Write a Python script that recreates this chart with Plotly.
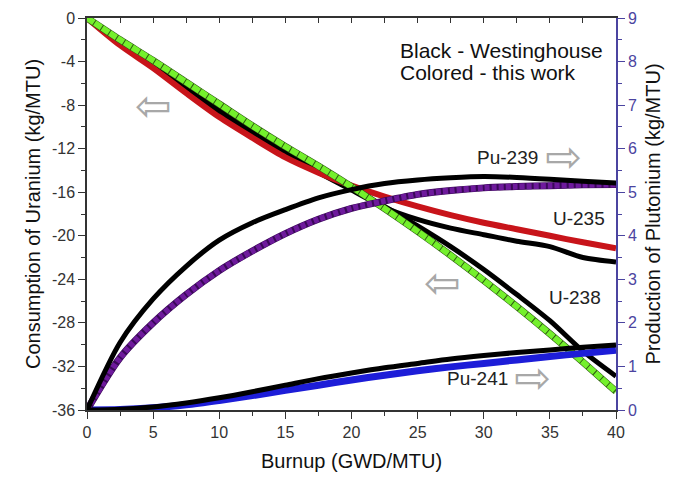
import plotly.graph_objects as go

# ---- data ----
burnup = [0, 2.5, 5, 7.5, 10, 12.5, 15, 17.5, 20, 22.5, 25, 27.5, 30, 32.5, 35, 37.5, 40]

u238_this = [0, -2.0, -3.9, -5.9, -7.9, -9.9, -11.8, -13.6, -15.5, -17.5, -19.6, -21.8, -24.1, -26.5, -29.0, -31.6, -34.3]
u238_west = [0, -2.2, -4.3, -6.3, -8.3, -10.2, -12.1, -13.9, -15.6, -17.3, -19.1, -21.0, -23.1, -25.4, -27.8, -30.6, -32.9]

u235_this = [0, -2.5, -4.6, -6.9, -9.1, -11.0, -12.8, -14.2, -15.4, -16.4, -17.3, -18.1, -18.8, -19.4, -20.0, -20.6, -21.15]
u235_west = [0, -2.2, -4.3, -6.5, -8.6, -10.6, -12.5, -14.2, -15.8, -17.4, -18.5, -19.3, -19.9, -20.5, -21.0, -22.0, -22.4]

pu239_this = [0, 1.2, 2.0, 2.65, 3.2, 3.65, 4.05, 4.38, 4.63, 4.8, 4.95, 5.04, 5.1, 5.13, 5.15, 5.17, 5.18]
pu239_west = [0, 1.55, 2.55, 3.3, 3.9, 4.3, 4.6, 4.87, 5.06, 5.2, 5.28, 5.33, 5.36, 5.34, 5.3, 5.25, 5.21]

pu241_this = [0, 0.01, 0.05, 0.12, 0.22, 0.33, 0.45, 0.57, 0.69, 0.8, 0.9, 0.99, 1.07, 1.15, 1.23, 1.3, 1.37]
pu241_west = [0, 0.02, 0.07, 0.16, 0.28, 0.42, 0.57, 0.72, 0.85, 0.97, 1.07, 1.17, 1.25, 1.32, 1.38, 1.44, 1.49]

x_ticks = [0, 5, 10, 15, 20, 25, 30, 35, 40]
left_ticks = [0, -4, -8, -12, -16, -20, -24, -28, -32, -36]
right_ticks = [0, 1, 2, 3, 4, 5, 6, 7, 8, 9]

FONT = "Liberation Sans, Arial, sans-serif"
AXC = "#333333"
PUC = "#4b44a0"

fig = go.Figure()

def line(x, y, color, width, yaxis="y", dash="solid", shape="spline"):
    fig.add_trace(go.Scatter(x=x, y=y, mode="lines", yaxis=yaxis,
                             line=dict(color=color, width=width, dash=dash,
                                       shape=shape, smoothing=0.8),
                             showlegend=False, hoverinfo="skip"))

# colored (this work)
line(burnup, pu241_this, "#1d1dd8", 7, "y2")
line(burnup, pu239_this, "#3a0858", 7, "y2")
line(burnup, pu239_this, "#6e1a9c", 6, "y2", dash="5px,2px")
# Westinghouse (black)
line(burnup, pu241_west, "#000000", 5, "y2")
line(burnup, pu239_west, "#000000", 5, "y2")
line(burnup, u235_west, "#000000", 5)
line(burnup, u238_west, "#000000", 5)
line(burnup, u235_this, "#c8141a", 6)
line(burnup, u238_this, "#2e5a12", 7)
line(burnup, u238_this, "#74f02c", 6, dash="8px,1px")

# top axis dummy trace
fig.add_trace(go.Scatter(x=[], y=[], xaxis="x2", showlegend=False))

tickfont = dict(family=FONT, size=16, color=AXC)
titlefont = dict(family=FONT, size=20, color="#111111")

fig.update_layout(
    width=680, height=470,
    margin=dict(l=79, r=72, t=10, b=68),
    paper_bgcolor="white", plot_bgcolor="white",
    font=dict(family=FONT),
    showlegend=False,
    xaxis=dict(range=[0, 40], tickvals=x_ticks, ticks="outside", ticklen=7,
               tickwidth=1.3, tickcolor=AXC, showline=True, linecolor=AXC,
               linewidth=1.5, showgrid=False, zeroline=False, tickfont=tickfont,
               minor=dict(dtick=2.5, tick0=0, ticks="outside", ticklen=4, tickcolor=AXC),
               title=dict(text="Burnup (GWD/MTU)", font=titlefont, standoff=14),
               automargin=False),
    xaxis2=dict(range=[0, 40], overlaying="x", side="top", anchor="y",
                ticks="inside", dtick=2.5, tick0=0, ticklen=5, tickcolor=AXC,
                showticklabels=False, showline=True, linecolor=AXC, linewidth=1.5,
                showgrid=False, zeroline=False),
    yaxis=dict(range=[-36, 0], tickvals=left_ticks, ticktext=[str(v) for v in left_ticks],
               ticks="outside", ticklen=7, tickwidth=1.3, tickcolor=AXC,
               showline=True, linecolor=AXC, linewidth=1.5, showgrid=False,
               zeroline=False, tickfont=tickfont,
               minor=dict(dtick=2, tick0=0, ticks="outside", ticklen=4, tickcolor=AXC),
               title=dict(text="Consumption of Uranium (kg/MTU)", font=titlefont, standoff=6),
               automargin=False),
    yaxis2=dict(range=[0, 9], tickvals=right_ticks, overlaying="y", side="right",
                anchor="x", ticks="outside", ticklen=7, tickwidth=1.3, tickcolor=PUC,
                showline=True, linecolor=PUC, linewidth=1.5, showgrid=False,
                zeroline=False, tickfont=dict(family=FONT, size=16, color=PUC),
                minor=dict(dtick=0.5, tick0=0, ticks="outside", ticklen=4, tickcolor=PUC),
                title=dict(text="Production of Plutonium (kg/MTU)", font=titlefont, standoff=10),
                automargin=False),
)

lab = dict(family=FONT, size=19, color="#222222")
arrowfont = dict(family="DejaVu Sans", size=44, color="#a8a8a8")
legfont = dict(family=FONT, size=21, color="#111111")

annots = [
    dict(x=23.5, y=-2.95, text="Black - Westinghouse", xanchor="left", font=legfont),
    dict(x=23.5, y=-5.05, text="Colored - this work", xanchor="left", font=legfont),
    dict(x=31.8, y=-12.8, text="Pu-239", font=lab),
    dict(x=37.2, y=-18.4, text="U-235", font=lab),
    dict(x=36.9, y=-25.7, text="U-238", font=lab),
    dict(x=29.5, y=-33.1, text="Pu-241", font=lab),
    dict(x=5.0, y=-8.0, text="\u21e6", font=arrowfont),
    dict(x=36.0, y=-12.7, text="\u21e8", font=arrowfont),
    dict(x=26.9, y=-24.3, text="\u21e6", font=arrowfont),
    dict(x=33.7, y=-33.0, text="\u21e8", font=arrowfont),
]
for a in annots:
    a.setdefault("xanchor", "center")
    fig.add_annotation(xref="x", yref="y", showarrow=False, yanchor="middle", **a)

fig.write_html("out.html")
